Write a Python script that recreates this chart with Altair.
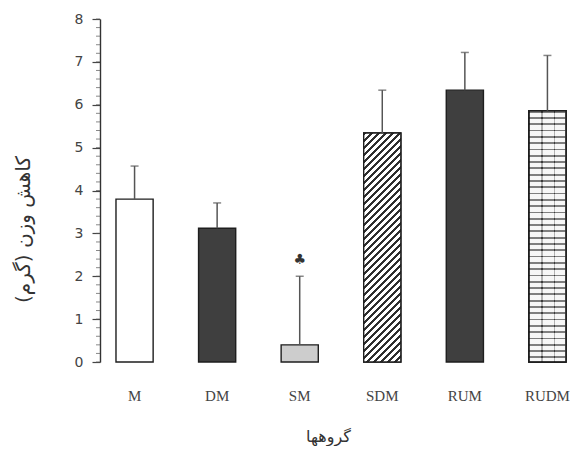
import altair as alt
import pandas as pd

# ---- data ----
groups = ["M", "DM", "SM", "SDM", "RUM", "RUDM"]
means = [3.80, 3.12, 0.40, 5.34, 6.34, 5.86]
upper = [4.57, 3.71, 2.00, 6.34, 7.22, 7.15]
marker_group = ["SM"]
marker_value = [2.38]
marker_text = ["♣"]
y_major = [0, 1, 2, 3, 4, 5, 6, 7, 8]
y_minor = [round(i * 0.2, 1) for i in range(41)]

df = pd.DataFrame({"group": groups, "mean": means, "upper": upper})
mk = pd.DataFrame({"group": marker_group, "value": marker_value, "txt": marker_text})
minor_df = pd.DataFrame({"v": y_minor})

# ---- styling ----
base_fills = ["#ffffff", "#3f3f3f", "#cdcdcd", "#ffffff", "#3f3f3f", "#ffffff"]
PLOT_W, PLOT_H = 470, 343
PX_PER_UNIT = PLOT_H / 8.0
BAND_W = 37.16


def stripe_stops(step, tmax, dark, light, frac):
    stops = []
    t = 0.0
    while t < tmax:
        a = min(t, 1.0)
        b = min(t + step * frac, 1.0)
        c = min(t + step, 1.0)
        stops += [{"offset": a, "color": dark}, {"offset": b, "color": dark},
                  {"offset": b, "color": light}, {"offset": c, "color": light}]
        t += step
        if c >= 1.0:
            break
    return stops


def hatch_gradient(h_px, w_px, period, dark, light, frac):
    k = h_px / w_px
    denom = w_px * (1 + k * k)
    tmax = (w_px + h_px) / denom
    stops = stripe_stops(period / denom, tmax + period / denom, dark, light, frac)
    return {"gradient": "linear", "x1": 0, "y1": 0, "x2": 1, "y2": k, "stops": stops}


def rows_gradient(h_px, period, dark, light, frac):
    stops = stripe_stops(period / h_px, 1.0, dark, light, frac)
    return {"gradient": "linear", "x1": 0, "y1": 0, "x2": 0, "y2": 1, "stops": stops}


def cols_gradient(w_px, period, dark, light, frac):
    stops = stripe_stops(period / w_px, 1.0, dark, light, frac)
    return {"gradient": "linear", "x1": 0, "y1": 0, "x2": 1, "y2": 0, "stops": stops}


sdm_h = means[groups.index("SDM")] * PX_PER_UNIT
rudm_h = means[groups.index("RUDM")] * PX_PER_UNIT
hatch = hatch_gradient(sdm_h, BAND_W, 7.0, "#2e2e2e", "#ffffff", 0.45)
bricks = rows_gradient(rudm_h, 6.3, "#3a3a3a", "#f2f2f2", 0.28)
joints = cols_gradient(BAND_W, 12.4, "#3a3a3a", "#ffffff", 0.12)

x_enc = alt.X(
    "group:N",
    sort=groups,
    scale=alt.Scale(domain=groups, paddingInner=0.55, paddingOuter=0.121, align=0.8),
    axis=alt.Axis(
        title="گروهها", labelAngle=0, ticks=False, domain=False,
        labelFont="Liberation Serif", labelFontSize=15, labelColor="#444444",
        labelPadding=26,
        titleFont="DejaVu Sans", titleFontSize=16, titleFontWeight="normal",
        titleColor="#333333", titleY=74, titleX=228, titleBaseline="middle",
    ),
)

y_scale = alt.Scale(domain=[0, 8], nice=False, zero=True)

bars = alt.Chart(df).mark_bar(stroke="#1e1e1e", strokeWidth=1.4).encode(
    x=x_enc,
    y=alt.Y(
        "mean:Q", scale=y_scale,
        axis=alt.Axis(
            orient="left", values=y_major, tickSize=8, tickColor="#444444",
            tickWidth=1.2, domainColor="#333333", domainWidth=1.4, grid=False,
            labelFont="DejaVu Sans", labelFontSize=14, labelColor="#444444",
            labelPadding=9,
            title="کاهش وزن (گرم)", titleFont="DejaVu Sans", titleFontSize=20,
            titleFontWeight="normal", titleColor="#333333", titleAngle=-90,
            titleX=-77, titleY=210, titleBaseline="middle", titleAlign="center",
        ),
    ),
    fill=alt.Fill("group:N", scale=alt.Scale(domain=groups, range=base_fills), legend=None),
)

sdm = alt.Chart(df).transform_filter(alt.datum.group == "SDM").mark_bar(
    fill=hatch, stroke="#1e1e1e", strokeWidth=1.4
).encode(x=alt.X("group:N", sort=groups), y=alt.Y("mean:Q", scale=y_scale))

rudm = alt.Chart(df).transform_filter(alt.datum.group == "RUDM").mark_bar(
    fill=bricks, stroke="#1e1e1e", strokeWidth=1.4
).encode(x=alt.X("group:N", sort=groups), y=alt.Y("mean:Q", scale=y_scale))

rudm_joints = alt.Chart(df).transform_filter(alt.datum.group == "RUDM").mark_bar(
    fill=joints, fillOpacity=0.35, stroke="#1e1e1e", strokeWidth=1.4
).encode(x=alt.X("group:N", sort=groups), y=alt.Y("mean:Q", scale=y_scale))

minor_ticks = alt.Chart(minor_df).mark_tick(
    color="#555555", thickness=1, size=4
).encode(y=alt.Y("v:Q", scale=y_scale), x=alt.value(-2))

rules = alt.Chart(df).mark_rule(color="#555555", strokeWidth=1.5).encode(
    x=alt.X("group:N", sort=groups),
    y=alt.Y("mean:Q", scale=y_scale),
    y2="upper:Q",
)

caps = alt.Chart(df).mark_tick(color="#555555", thickness=1.5, size=8).encode(
    x=alt.X("group:N", sort=groups),
    y=alt.Y("upper:Q", scale=y_scale),
)

marker = alt.Chart(mk).mark_text(fontSize=14, color="#333333", font="DejaVu Sans").encode(
    x=alt.X("group:N", sort=groups),
    y=alt.Y("value:Q", scale=y_scale),
    text="txt:N",
)

chart = alt.layer(bars, sdm, rudm, rudm_joints, minor_ticks, rules, caps, marker).properties(
    width=PLOT_W, height=PLOT_H,
    padding={"left": 92, "top": 11, "right": 0, "bottom": 84},
    autosize=alt.AutoSizeParams(type="none"),
    background="white",
).configure_view(stroke=None)

chart.save("out.html", embed_options={"renderer": "svg", "actions": False})
